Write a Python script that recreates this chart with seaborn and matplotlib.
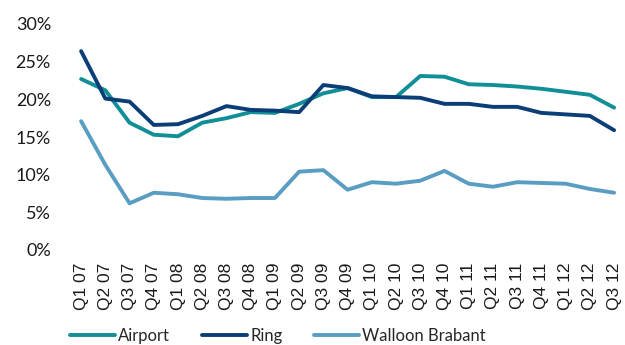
import matplotlib
matplotlib.use("Agg")
import matplotlib.pyplot as plt
import seaborn as sns
import pandas as pd
from matplotlib.ticker import FuncFormatter

quarters = ["Q1 07", "Q2 07", "Q3 07", "Q4 07", "Q1 08", "Q2 08", "Q3 08", "Q4 08",
            "Q1 09", "Q2 09", "Q3 09", "Q4 09", "Q1 10", "Q2 10", "Q3 10", "Q4 10",
            "Q1 11", "Q2 11", "Q3 11", "Q4 11", "Q1 12", "Q2 12", "Q3 12"]

airport = [22.7, 21.2, 16.9, 15.3, 15.1, 16.9, 17.5, 18.3, 18.2, 19.4, 20.8, 21.5,
           20.3, 20.3, 23.1, 23.0, 22.0, 21.9, 21.7, 21.4, 21.0, 20.6, 18.9]
ring = [26.4, 20.1, 19.7, 16.6, 16.7, 17.8, 19.1, 18.6, 18.5, 18.3, 21.9, 21.5,
        20.4, 20.3, 20.2, 19.4, 19.4, 19.0, 19.0, 18.2, 18.0, 17.8, 15.9]
walloon = [17.1, 11.3, 6.2, 7.6, 7.4, 6.9, 6.8, 6.9, 6.9, 10.4, 10.6, 8.0,
           9.0, 8.8, 9.2, 10.5, 8.8, 8.4, 9.0, 8.9, 8.8, 8.1, 7.6]

series_names = ["Airport", "Ring", "Walloon Brabant"]
colors = ["#108F96", "#0B3D77", "#5A9DC3"]

rows = []
for name, vals in zip(series_names, [airport, ring, walloon]):
    for i, (q, v) in enumerate(zip(quarters, vals)):
        rows.append({"idx": i, "quarter": q, "series": name, "value": v})
df = pd.DataFrame(rows)

sns.set_style("white")
plt.rcParams["font.family"] = ["Lato", "DejaVu Sans"]

fig = plt.figure(figsize=(6.25, 3.45), dpi=100)
ax = fig.add_axes([69 / 625, 1 - 250 / 345, 1 - 69 / 625, (250 - 24) / 345])

sns.lineplot(data=df, x="idx", y="value", hue="series", hue_order=series_names,
             palette=colors, linewidth=2.8, ax=ax, legend=False)

ax.set_xlim(-0.5, 22.45)
ax.set_ylim(0, 30)
ax.set_yticks([0, 5, 10, 15, 20, 25, 30])
ax.yaxis.set_major_formatter(FuncFormatter(lambda v, p: f"{v:.0f}%"))
ax.set_xticks(range(len(quarters)))
ax.set_xticklabels(quarters, rotation=90, family=["Liberation Sans", "DejaVu Sans"],
                   fontsize=12.5)
ax.tick_params(axis="both", length=0, colors="#1a1a1a")
ax.tick_params(axis="y", pad=13, labelsize=13)
ax.tick_params(axis="x", pad=9)
ax.set_xlabel("")
ax.set_ylabel("")
for s in ax.spines.values():
    s.set_visible(False)

handles = [plt.Line2D([], [], color=c, linewidth=2.8) for c in colors]
fig.legend(handles, series_names, loc="center left", bbox_to_anchor=(70 / 625, 0.026),
           ncol=3, frameon=False, fontsize=12, handlelength=2.7,
           handletextpad=0.2, columnspacing=1.9, borderaxespad=0, borderpad=0)

fig.savefig("out.png", dpi=100)
